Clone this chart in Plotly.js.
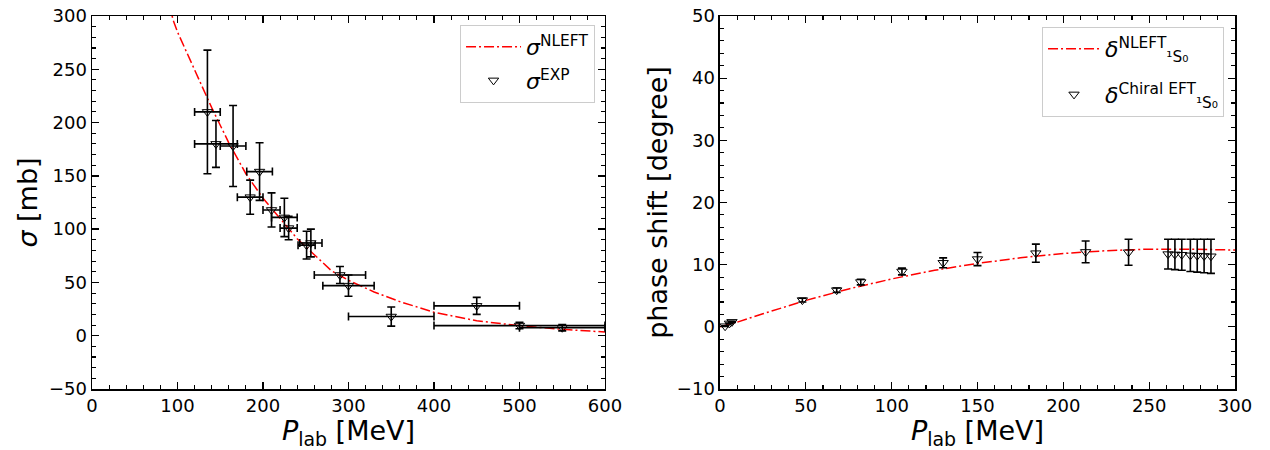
<!DOCTYPE html>
<html>
<head>
<meta charset="utf-8">
<script src="https://cdn.plot.ly/plotly-3.0.1.min.js"></script>
<style>html,body{margin:0;padding:0;background:#fff;}#chart{width:1270px;height:450px;}</style>
</head>
<body>
<div id="chart"></div>
<script>
// ---- Left panel: cross section ----
const nleftX = [90, 95, 100, 120, 140, 160, 180, 200, 220, 240, 260, 280, 300, 330, 360, 400, 450, 500, 550, 600];
const nleftY = [312, 296, 285, 250, 214, 181, 152, 129, 110, 91, 76, 61, 52, 41, 32, 22, 14, 9.4, 6, 3.5];

const expX    = [135, 145, 165, 185, 196, 210, 225, 230, 251, 256, 290, 300, 350, 450, 500, 550];
const expY    = [210, 180, 178, 130, 154, 118, 111, 101, 85, 87, 57, 47, 18, 28, 9.5, 7.5];
const expYerr = [58, 22, 38, 16, 27, 16, 18, 11, 13, 13, 8, 10, 9, 8, 3, 3];
const expXerr = [15, 25, 15, 15, 15, 10, 15, 10, 10, 13, 30, 30, 50, 50, 100, 50];

// ---- Right panel: phase shift ----
const psX = [0, 10, 25, 50, 75, 100, 125, 150, 175, 200, 225, 250, 275, 300];
const psY = [0, 0.75, 2.1, 4.25, 6.1, 7.7, 9.1, 10.2, 11.1, 11.8, 12.25, 12.5, 12.5, 12.35];

const chiX   = [3, 5.5, 7, 48, 68, 82, 106, 130, 150, 184, 213, 238, 261, 265, 269, 274, 278, 282, 286];
const chiY   = [0.1, 0.55, 0.8, 4.3, 5.9, 7.2, 8.9, 10.3, 10.9, 11.85, 12.05, 12.0, 11.7, 11.65, 11.6, 11.5, 11.45, 11.4, 11.35];
const chiErr = [0.05, 0.05, 0.1, 0.3, 0.35, 0.45, 0.55, 0.8, 1.05, 1.45, 1.75, 2.1, 2.4, 2.45, 2.5, 2.6, 2.65, 2.7, 2.75];

const FONT = "DejaVu Sans, sans-serif";
const DASH = '10px,3px,2px,3px';

const traces = [
  {
    x: nleftX, y: nleftY, type: 'scatter', mode: 'lines',
    name: '<i>σ</i><sup>NLEFT</sup>', legendgroup: 'a',
    line: {color: 'red', width: 1.5, dash: DASH},
    xaxis: 'x', yaxis: 'y', legend: 'legend'
  },
  {
    x: expX, y: expY, type: 'scatter', mode: 'markers',
    name: '<i>σ</i><sup>EXP</sup>', legendgroup: 'b',
    marker: {symbol: 'triangle-down-open', size: 9, color: 'black', line: {color: 'black', width: 1}},
    error_y: {type: 'data', array: expYerr, visible: true, color: 'black', thickness: 1.6, width: 4},
    error_x: {type: 'data', array: expXerr, visible: true, color: 'black', thickness: 1.6, width: 4},
    xaxis: 'x', yaxis: 'y', legend: 'legend'
  },
  {
    x: psX, y: psY, type: 'scatter', mode: 'lines',
    name: '<i>δ</i><sup>NLEFT</sup><sub>¹S₀</sub>', legendgroup: 'c',
    line: {color: 'red', width: 1.5, dash: DASH},
    xaxis: 'x2', yaxis: 'y2', legend: 'legend2'
  },
  {
    x: chiX, y: chiY, type: 'scatter', mode: 'markers',
    name: '<i>δ</i><sup>Chiral EFT</sup><sub>¹S₀</sub>', legendgroup: 'd',
    marker: {symbol: 'triangle-down-open', size: 9, color: 'black', line: {color: 'black', width: 1}},
    error_y: {type: 'data', array: chiErr, visible: true, color: 'black', thickness: 1.6, width: 4},
    xaxis: 'x2', yaxis: 'y2', legend: 'legend2'
  }
];

function axisBase(extra) {
  return Object.assign({
    showline: true, linecolor: 'black', linewidth: 1.5, mirror: 'ticks',
    ticks: 'inside', ticklen: 7, tickwidth: 1.3, tickcolor: 'black',
    showgrid: false, zeroline: false, automargin: false,
    tickfont: {family: FONT, size: 18, color: 'black'}
  }, extra);
}

const TITLEFONT = {family: FONT, size: 27, color: 'black'};
const MINOR = (d) => ({dtick: d, ticklen: 4, ticks: 'inside', tickcolor: 'black', tickwidth: 1.1});

const layout = {
  width: 1270, height: 450,
  margin: {l: 92, r: 35, t: 16, b: 61},
  paper_bgcolor: 'white', plot_bgcolor: 'white',
  font: {family: FONT, color: 'black'},
  xaxis: axisBase({
    domain: [0, 0.4488], range: [0, 600], dtick: 100, tick0: 0, anchor: 'y',
    minor: MINOR(20),
    title: {text: '<i>P</i><sub>lab</sub> [MeV]', font: TITLEFONT, standoff: 3}
  }),
  yaxis: axisBase({
    domain: [0, 1], range: [-50, 300], dtick: 50, tick0: 0, anchor: 'x',
    minor: MINOR(10),
    title: {text: '<i>σ</i> [mb]', font: TITLEFONT, standoff: 3}
  }),
  xaxis2: axisBase({
    domain: [0.5494, 1.0], range: [0, 300], dtick: 50, tick0: 0, anchor: 'y2',
    minor: MINOR(10),
    title: {text: '<i>P</i><sub>lab</sub> [MeV]', font: TITLEFONT, standoff: 3}
  }),
  yaxis2: axisBase({
    domain: [0, 1], range: [-10, 50], dtick: 10, tick0: 0, anchor: 'x2',
    minor: MINOR(2),
    title: {text: 'phase shift [degree]', font: TITLEFONT, standoff: 1}
  }),
  legend: {
    x: 0.4401, y: 0.9759, xanchor: 'right', yanchor: 'top',
    bgcolor: 'white', bordercolor: '#cccccc', borderwidth: 1,
    font: {family: FONT, size: 22, color: 'black'}, itemwidth: 55, tracegroupgap: 2
  },
  legend2: {
    x: 0.9904, y: 0.9705, xanchor: 'right', yanchor: 'top',
    bgcolor: 'white', bordercolor: '#cccccc', borderwidth: 1,
    font: {family: FONT, size: 22, color: 'black'}, itemwidth: 52, tracegroupgap: 14
  },
  showlegend: true
};

Plotly.newPlot('chart', traces, layout, {staticPlot: true, displayModeBar: false});
</script>
</body>
</html>
